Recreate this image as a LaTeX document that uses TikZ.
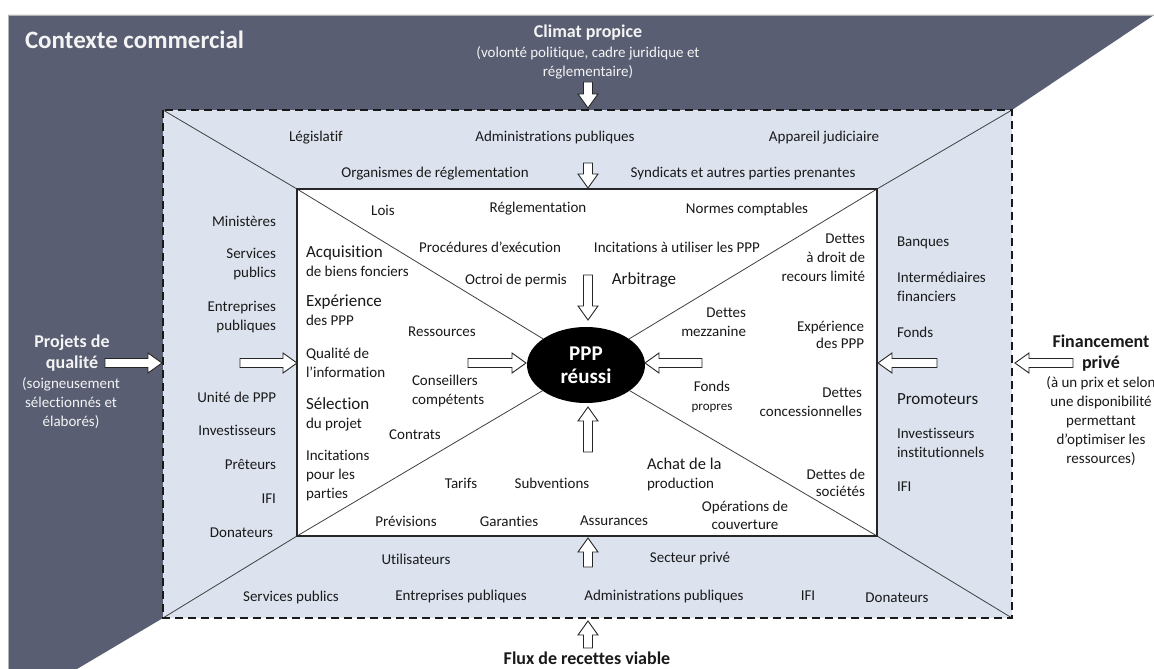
\documentclass[tikz,border=0pt]{standalone}
\usepackage{fontspec}
\setmainfont{Carlito}[Ligatures=NoCommon]
\usetikzlibrary{shapes.geometric}
\definecolor{darkbg}{RGB}{89,94,114}
\definecolor{lightbg}{RGB}{220,227,239}
\definecolor{txt}{RGB}{25,25,25}
\definecolor{wtxt}{RGB}{244,244,244}
\newcommand\blockarrow[3]{%
  \begin{scope}[shift={#1},rotate=#2]
    \draw[draw=black!85,fill=white,line width=0.9pt,line join=miter]
      (0,-4.5) -- ({#3-14},-4.5) -- ({#3-14},-10) -- (#3,0) -- ({#3-14},10) -- ({#3-14},4.5) -- (0,4.5) -- cycle;
  \end{scope}}
\begin{document}
\begin{tikzpicture}[x=1pt,y=-1pt,
  every node/.style={inner sep=0pt,outer sep=0pt,text=txt,font=\fontsize{15}{19}\selectfont},
  big/.style={font=\fontsize{17}{20}\selectfont},
  wt/.style={text=wtxt},
  bf/.style={font=\bfseries\fontsize{18}{21}\selectfont},
  rgt/.style={align=right,anchor=east},
  lft/.style={align=left,anchor=west},
  ctr/.style={align=center},
  diag/.style={draw=black!75,line width=0.8pt},
  ]
\useasboundingbox (0,0) rectangle (1154,669);
\fill[white] (0,0) rectangle (1154,669);
% regions
\fill[darkbg] (8,15) -- (1154,15) -- (1012,110) -- (163,110) -- (163,618) -- (77,669) -- (8,669) -- cycle;
\draw[black!30,line width=0.8pt] (8,669) -- (8,15) -- (1154,15);
\fill[lightbg] (163,110) rectangle (1012,618);
\fill[white] (297,189) rectangle (877,536);
\coordinate (do1) at (163,110);
\coordinate (do2) at (1012,110);
\coordinate (do3) at (1012,618);
\coordinate (do4) at (163,618);
\coordinate (di1) at (297,189);
\coordinate (di2) at (877,189);
\coordinate (di3) at (877,536);
\coordinate (di4) at (297,536);
\node[ellipse,fill=black,minimum width=118pt,minimum height=76pt,align=center,
  font=\bfseries\fontsize{21}{23}\selectfont,text=white] (ppp) at (586,365) {PPP\\réussi};
\draw[diag] (do1) -- (di1) -- (ppp);
\draw[diag] (do2) -- (di2) -- (ppp);
\draw[diag] (do3) -- (di3) -- (ppp);
\draw[diag] (do4) -- (di4) -- (ppp);
\draw[black!85,line width=1.6pt] (di1) rectangle (di3);
\draw[black!90,line width=1.6pt,dash pattern=on 8pt off 5pt] (do1) rectangle (do3);
% arrows
\blockarrow{(105,363)}{0}{57}
\blockarrow{(240,363)}{0}{57}
\blockarrow{(468,363)}{0}{58}
\blockarrow{(702,363)}{180}{57}
\blockarrow{(937,363)}{180}{59}
\blockarrow{(1073,363)}{180}{58}
\blockarrow{(588,82)}{-90}{26}
\blockarrow{(588,163)}{-90}{25}
\blockarrow{(588,275)}{-90}{45}
\blockarrow{(588,452)}{90}{45}
\blockarrow{(588,567)}{90}{29}
\blockarrow{(588,648)}{90}{27}
% dark region texts
\node[wt,anchor=west,font=\bfseries\fontsize{25}{30}\selectfont] (ctx) at (25,40) {Contexte commercial};
\node[bf,wt] (clim) at (588,33) {Climat propice};
\node[wt,ctr] (climsub) at (588,63) {(volonté politique, cadre juridique et\\réglementaire)};
\node[bf,wt,ctr] (proj) at (72,353) {Projets de\\qualité};
\node[wt,ctr] (projsub) at (71,403) {(soigneusement\\sélectionnés et\\élaborés)};
% right outside
\node[bf,ctr] (fin) at (1101,353) {Financement\\privé};
\node[ctr] (finsub) at (1101,421) {(à un prix et selon\\une disponibilité\\permettant\\d’optimiser les\\ressources)};
% bottom
\node[font=\bfseries\fontsize{18}{21}\selectfont] (flux) at (587,658) {Flux de recettes viable};
% top light
\node (t1) at (316,138) {Législatif};
\node (t2) at (555,138) {Administrations publiques};
\node (t3) at (824,138) {Appareil judiciaire};
\node (t4) at (435,174) {Organismes de réglementation};
\node (t5) at (743,174) {Syndicats et autres parties prenantes};
% left light
\node[rgt] (l1) at (276,221) {Ministères};
\node[rgt] (l2) at (276,264) {Services\\publics};
\node[rgt] (l3) at (276,317) {Entreprises\\publiques};
\node[rgt] (l4) at (276,397) {Unité de PPP};
\node[rgt] (l5) at (276,430) {Investisseurs};
\node[rgt] (l6) at (276,464) {Prêteurs};
\node[rgt] (l7) at (276,499) {IFI};
\node[rgt] (l8) at (273,533) {Donateurs};
% right light
\node[lft] (r1) at (897,243) {Banques};
\node[lft] (r2) at (897,287) {Intermédiaires\\financiers};
\node[lft] (r3) at (897,332) {Fonds};
\node[lft,big] (r4) at (897,399) {Promoteurs};
\node[lft] (r5) at (897,443) {Investisseurs\\institutionnels};
\node[lft] (r6) at (897,487) {IFI};
% bottom light
\node (b1) at (416,559) {Utilisateurs};
\node (b2) at (690,559) {Secteur privé};
\node (b3) at (291,597) {Services publics};
\node (b4) at (461,596) {Entreprises publiques};
\node (b5) at (664,596) {Administrations publiques};
\node (b6) at (808,596) {IFI};
\node (b7) at (897,598) {Donateurs};
% inner top
\node (i1) at (383,210) {Lois};
\node (i2) at (538,209) {Réglementation};
\node (i3) at (747,209) {Normes comptables};
\node (i4) at (490,247) {Procédures d’exécution};
\node (i5) at (677,247) {Incitations à utiliser les PPP};
\node (i6) at (516,280) {Octroi de permis};
\node[big] (i7) at (644,280) {Arbitrage};
% inner left
\node[lft] (a1) at (306,261) {{\fontsize{17}{20}\selectfont Acquisition}\\de biens fonciers};
\node[lft] (a2) at (306,310) {{\fontsize{17}{20}\selectfont Expérience}\\des PPP};
\node[lft] (a3) at (306,363) {Qualité de\\l’information};
\node[lft] (a4) at (306,414) {{\fontsize{17}{20}\selectfont Sélection}\\du projet};
\node[lft] (a5) at (306,476) {Incitations\\pour les\\parties};
\node (a6) at (442,332) {Ressources};
\node[lft] (a7) at (412,391) {Conseillers\\compétents};
\node (a8) at (415,435) {Contrats};
% inner right
\node[rgt] (c1) at (865,258) {Dettes\\à droit de\\recours limité};
\node[rgt] (c2) at (746,322) {Dettes\\mezzanine};
\node[rgt,font=\fontsize{15}{17}\selectfont] (c3) at (864,335) {Expérience\\des PPP};
\node[ctr] (c4) at (712,397) {Fonds\\{\fontsize{13}{15}\selectfont propres}};
\node[rgt] (c5) at (862,402) {Dettes\\concessionnelles};
\node[lft] (c6) at (647,474) {{\fontsize{16.5}{18}\selectfont Achat de la}\\production};
\node[rgt,font=\fontsize{15}{17}\selectfont] (c7) at (865,483) {Dettes de\\sociétés};
\node[ctr,font=\fontsize{15}{18}\selectfont] (c8) at (745,515) {Opérations de\\couverture};
% inner bottom
\node (d1) at (461,483) {Tarifs};
\node (d2) at (552,483) {Subventions};
\node (d3) at (406,521) {Prévisions};
\node (d4) at (509,521) {Garanties};
\node (d5) at (614,521) {Assurances};
\end{tikzpicture}
\end{document}
